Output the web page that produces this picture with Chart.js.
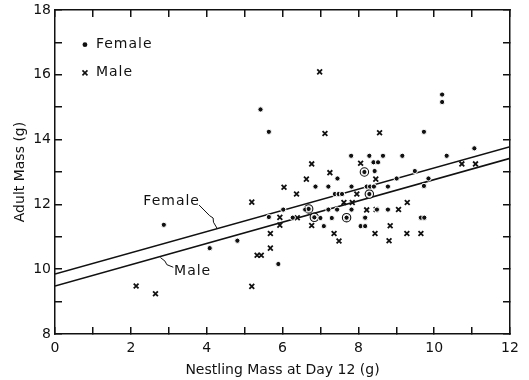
<!DOCTYPE html>
<html>
<head>
<meta charset="utf-8">
<script src="https://cdn.jsdelivr.net/npm/chart.js@4/dist/chart.umd.min.js"></script>
<style>
  html, body { margin: 0; padding: 0; background: #fff; }
  #wrap { width: 529px; height: 380px; }
</style>
</head>
<body>
<div id="wrap"><canvas id="chart"></canvas></div>
<script>
/* ── Data ── */
const FEMALE_X = [2.87, 4.08, 4.81, 5.42, 5.64, 5.64, 5.89, 6.02, 6.27, 6.60, 6.69, 6.87, 6.84, 7.00, 7.09,
                  7.21, 7.21, 7.30, 7.38, 7.48, 7.45, 7.44, 7.57, 7.69, 7.81, 7.82, 7.82, 8.06, 8.18, 8.18,
                  8.22, 8.16, 8.31, 8.41, 8.29, 8.29, 8.40, 8.52, 8.43, 8.49, 8.65, 8.78, 8.78, 9.01, 9.16,
                  9.49, 9.65, 9.74, 9.73, 9.73, 9.85, 10.21, 10.21, 10.33, 11.06];
const FEMALE_Y = [11.37, 10.65, 10.88, 14.93, 14.24, 11.61, 10.16, 11.84, 11.59, 11.84, 11.86, 12.55, 11.60, 11.58, 11.33,
                  12.55, 11.84, 11.58, 12.32, 12.32, 12.80, 11.84, 12.32, 11.59, 13.50, 12.55, 11.84, 11.33, 11.33, 11.59,
                  12.55, 13.00, 12.55, 12.55, 13.50, 12.32, 13.30, 13.30, 13.03, 11.84, 13.50, 12.55, 11.84, 12.80, 13.50,
                  13.03, 11.59, 11.59, 14.24, 12.57, 12.80, 15.39, 15.16, 13.50, 13.73];

const MALE_X = [2.14, 2.65, 5.19, 5.19, 5.33, 5.44, 5.68, 5.68, 5.93, 5.93, 6.04, 6.37, 6.39, 6.63, 6.77,
                6.77, 6.98, 7.12, 7.25, 7.36, 7.49, 7.62, 7.84, 7.96, 8.06, 8.22, 8.46, 8.44, 8.56, 8.47,
                8.84, 8.81, 9.06, 9.29, 9.28, 9.65, 10.73, 11.09];
const MALE_Y = [9.48, 9.24, 12.07, 9.47, 10.43, 10.43, 11.10, 10.65, 11.60, 11.36, 12.53, 12.32, 11.59, 12.78, 13.25,
                11.35, 16.09, 14.19, 12.98, 11.10, 10.87, 12.06, 12.06, 12.32, 13.27, 11.83, 12.78, 11.10, 14.21, 11.84,
                11.34, 10.88, 11.84, 12.06, 11.10, 11.10, 13.25, 13.25];

// circled points (several birds at the same spot)
const CIRCLED_X = [6.69, 6.84, 7.69, 8.16, 8.29];
const CIRCLED_Y = [11.86, 11.60, 11.59, 13.00, 12.32];

// regression lines, ends at x = 0 and x = 12
const LINE_X      = [0, 12];
const FEMALE_LINE = [9.85, 13.78];
const MALE_LINE   = [9.48, 13.42];

// tick marks every unit, labels every second one
const X_TICKS = [0, 1, 2, 3, 4, 5, 6, 7, 8, 9, 10, 11, 12];
const Y_TICKS = [8, 9, 10, 11, 12, 13, 14, 15, 16, 17, 18];

/* ── Constants ── */
const INK  = '#111';
const FONT = '"DejaVu Sans", sans-serif';

const pts = (xs, ys) => xs.map((x, i) => ({ x, y: ys[i] }));

// inward tick marks, no grid inside the plot
const GRID = { display: true, drawOnChartArea: false, drawTicks: true, tickLength: -7, color: INK, lineWidth: 1.5 };
const BORDER = { display: true, color: INK, width: 1.5 };

// fixed axis boxes, no extra label overflow padding
const fitX = h => s => { s.height = h; s.paddingLeft = 0; s.paddingRight = 0; };
const fitY = w => s => { s.width = w; s.paddingTop = 0; s.paddingBottom = 0; };

/* ── Legend and line labels ── */
const notesPlugin = {
  id: 'notes',
  afterDraw(chart) {
    const { ctx, scales: { x, y } } = chart;
    const P = (vx, vy) => [x.getPixelForValue(vx), y.getPixelForValue(vy)];
    ctx.save();
    ctx.strokeStyle = INK;
    ctx.fillStyle = INK;
    ctx.font = '14px ' + FONT;
    ctx.letterSpacing = '1px';
    ctx.textBaseline = 'middle';

    // legend
    const [lx, ly1] = P(0.79, 16.93);
    const ly2 = y.getPixelForValue(16.06);
    ctx.beginPath(); ctx.arc(lx, ly1, 2.4, 0, Math.PI * 2); ctx.fill();
    ctx.beginPath();
    ctx.moveTo(lx - 2.5, ly2 - 2.5); ctx.lineTo(lx + 2.5, ly2 + 2.5);
    ctx.moveTo(lx + 2.5, ly2 - 2.5); ctx.lineTo(lx - 2.5, ly2 + 2.5);
    ctx.lineWidth = 1.6; ctx.stroke();
    ctx.fillText('Female', lx + 11, ly1);
    ctx.fillText('Male', lx + 11, ly2);

    // line labels with leaders
    ctx.fillText('Female', ...P(2.33, 12.1));
    ctx.fillText('Male', ...P(3.14, 9.94));

    ctx.lineWidth = 1;
    ctx.beginPath();
    ctx.moveTo(...P(3.80, 11.98));
    ctx.lineTo(...P(4.08, 11.65));
    ctx.lineTo(...P(4.17, 11.58));
    ctx.lineTo(...P(4.18, 11.45));
    ctx.lineTo(...P(4.28, 11.25));
    ctx.moveTo(...P(3.12, 10.06));
    ctx.lineTo(...P(2.95, 10.14));
    ctx.lineTo(...P(2.90, 10.25));
    ctx.lineTo(...P(2.78, 10.36));
    ctx.stroke();
    ctx.restore();
  },
};

/* ── Chart ── */
new Chart(document.getElementById('chart'), {
  type: 'scatter',
  plugins: [notesPlugin],
  data: {
    datasets: [
      {
        label: 'Female',
        data: pts(FEMALE_X, FEMALE_Y),
        pointStyle: 'circle',
        pointRadius: 2.6,
        backgroundColor: INK,
        borderColor: '#fff',
        borderWidth: 1,
        order: 1,
      },
      {
        label: 'Male',
        data: pts(MALE_X, MALE_Y),
        pointStyle: 'crossRot',
        pointRadius: 3.4,
        borderColor: INK,
        borderWidth: 1.8,
        order: 2,
      },
      {
        label: 'Circled',
        data: pts(CIRCLED_X, CIRCLED_Y),
        pointStyle: 'circle',
        pointRadius: 4.2,
        backgroundColor: '#fff',
        borderColor: INK,
        borderWidth: 1.1,
        order: 3,
      },
      {
        type: 'line',
        label: 'Female fit',
        data: pts(LINE_X, FEMALE_LINE),
        borderColor: INK,
        borderWidth: 1.6,
        pointRadius: 0,
        order: 4,
      },
      {
        type: 'line',
        label: 'Male fit',
        data: pts(LINE_X, MALE_LINE),
        borderColor: INK,
        borderWidth: 1.6,
        pointRadius: 0,
        order: 4,
      },
    ],
  },
  options: {
    responsive: true,
    maintainAspectRatio: false,
    animation: false,
    layout: { padding: { top: 10, right: 19, left: 0, bottom: 0 } },
    plugins: { legend: { display: false }, tooltip: { enabled: false } },
    scales: {
      x: {
        type: 'linear',
        min: 0, max: 12,
        afterFit: fitX(46),
        afterBuildTicks: s => { s.ticks = X_TICKS.map(v => ({ value: v })); },
        grid: GRID,
        border: BORDER,
        ticks: {
          color: INK, font: { family: FONT, size: 14 }, padding: 13, maxRotation: 0, autoSkip: false,
          callback: v => (v % 2 === 0 ? v : ''),
        },
        title: {
          display: true,
          text: 'Nestling Mass at Day 12 (g)',
          color: INK,
          font: { family: FONT, size: 14 },
          padding: { top: 0, bottom: 1 },
        },
      },
      x2: {
        type: 'linear',
        position: 'top',
        min: 0, max: 12,
        afterFit: fitX(0),
        afterBuildTicks: s => { s.ticks = X_TICKS.map(v => ({ value: v })); },
        grid: GRID,
        border: BORDER,
        ticks: { display: false },
      },
      y: {
        type: 'linear',
        min: 8, max: 18,
        afterFit: fitY(55),
        afterBuildTicks: s => { s.ticks = Y_TICKS.map(v => ({ value: v })); },
        grid: GRID,
        border: BORDER,
        ticks: {
          color: INK, font: { family: FONT, size: 14 }, padding: 11, autoSkip: false,
          callback: v => (v % 2 === 0 ? v : ''),
        },
        title: {
          display: true,
          text: 'Adult Mass (g)',
          color: INK,
          font: { family: FONT, size: 14 },
          padding: { top: 12, bottom: 0 },
        },
      },
      y2: {
        type: 'linear',
        position: 'right',
        min: 8, max: 18,
        afterFit: fitY(0),
        afterBuildTicks: s => { s.ticks = Y_TICKS.map(v => ({ value: v })); },
        grid: GRID,
        border: BORDER,
        ticks: { display: false },
      },
    },
  },
});
</script>
</body>
</html>
